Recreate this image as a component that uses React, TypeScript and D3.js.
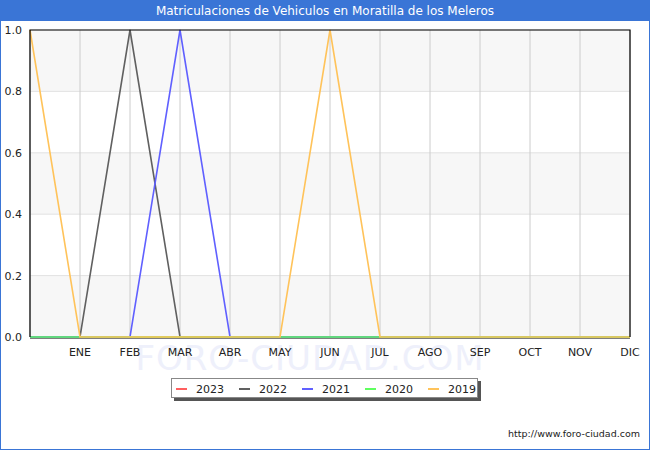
import * as d3 from "d3";

const months = ["", "ENE", "FEB", "MAR", "ABR", "MAY", "JUN", "JUL", "AGO", "SEP", "OCT", "NOV", "DIC"];
const yTicks = [0, 0.2, 0.4, 0.6, 0.8, 1.0];

const years = ["2023", "2022", "2021", "2020", "2019"];
const colors = ["#ff5f5f", "#606060", "#6060ff", "#60ff60", "#ffc35a"];

const v2023 = [0, 0, 0, 0, 0, 0, 0, 0, 0, 0, 0, 0, 0];
const v2022 = [0, 0, 1, 0, 0, 0, 0, 0, 0, 0, 0, 0, 0];
const v2021 = [0, 0, 0, 1, 0, 0, 0, 0, 0, 0, 0, 0, 0];
const v2020 = [0, 0, 0, 0, 0, 0, 0, 0, 0, 0, 0, 0, 0];
const v2019 = [1, 0, 0, 0, 0, 0, 1, 0, 0, 0, 0, 0, 0];
const seriesValues = [v2023, v2022, v2021, v2020, v2019];

const W = 650;
const H = 450;
const plot = { left: 30, right: 630, top: 30, bottom: 337 };

function App() {
  const x = d3.scalePoint<number>().domain(d3.range(months.length)).range([plot.left, plot.right]);
  const y = d3.scaleLinear().domain([0, 1]).range([plot.bottom, plot.top]);
  const line = d3.line<number>().x((_, i) => x(i)!).y((d) => y(d));

  const legendX = d3.scalePoint<string>().domain(years).range([176, 428]);

  return (
    <svg width={W} height={H} style={{ position: "absolute", left: 0, top: 0, background: "#ffffff" }} fontFamily="DejaVu Sans, sans-serif">
      {/* frame + title bar */}
      <rect x={0.5} y={0.5} width={W - 1} height={H - 1} fill="#ffffff" stroke="#3a75d6" />
      <rect x={0} y={0} width={W} height={21} fill="#3a75d6" />
      <text x={W / 2} y={15} textAnchor="middle" fontSize={12} fill="#ffffff">Matriculaciones de Vehiculos en Moratilla de los Meleros</text>

      {/* watermark */}
      <text x={310} y={370} textAnchor="middle" fontSize={34} fill="#eef0fb" letterSpacing={1}>FORO-CIUDAD.COM</text>

      {/* bands */}
      {yTicks.slice(0, -1).map((t, i) => (
        i % 2 === 0 ? <rect key={t} x={plot.left} y={y(yTicks[i + 1])} width={plot.right - plot.left} height={y(t) - y(yTicks[i + 1])} fill="#f7f7f7" /> : null
      ))}
      {yTicks.map((t) => (
        <line key={t} x1={plot.left} x2={plot.right} y1={y(t)} y2={y(t)} stroke="#e2e2e2" />
      ))}
      {months.map((m, i) => (
        <line key={i} x1={x(i)} x2={x(i)} y1={plot.top} y2={plot.bottom} stroke="#cccccc" />
      ))}

      {/* axes labels */}
      {yTicks.map((t) => (
        <text key={t} x={22} y={y(t) + 4} textAnchor="end" fontSize={11} fill="#222">{t.toFixed(1)}</text>
      ))}
      {months.map((m, i) => (
        <text key={i} x={x(i)} y={356} textAnchor="middle" fontSize={11} fill="#222">{m}</text>
      ))}

      {/* bottom axis line under the series */}
      <line x1={plot.left} x2={plot.right} y1={plot.bottom + 1} y2={plot.bottom + 1} stroke="#000" />

      {/* series */}
      {seriesValues.map((vals, k) => (
        <path key={years[k]} d={line(vals)!} fill="none" stroke={colors[k]} strokeWidth={1.6} />
      ))}

      {/* plot border */}
      <path d={`M${plot.left},${plot.bottom}V${plot.top}H${plot.right}V${plot.bottom}`} fill="none" stroke="#000" strokeWidth={1.2} />

      {/* legend */}
      <rect x={174} y={381} width={307} height={20} fill="#555" />
      <rect x={171.5} y={378.5} width={306} height={19} fill="#ffffff" stroke="#888" />
      {years.map((yr, k) => (
        <g key={yr}>
          <line x1={legendX(yr)} x2={legendX(yr)! + 11} y1={389} y2={389} stroke={colors[k]} strokeWidth={2} />
          <text x={legendX(yr)! + 20} y={393} fontSize={11} fill="#222">{yr}</text>
        </g>
      ))}

      <text x={640} y={437} textAnchor="end" fontSize={9.5} fill="#222">http://www.foro-ciudad.com</text>
    </svg>
  );
}

export default App;
